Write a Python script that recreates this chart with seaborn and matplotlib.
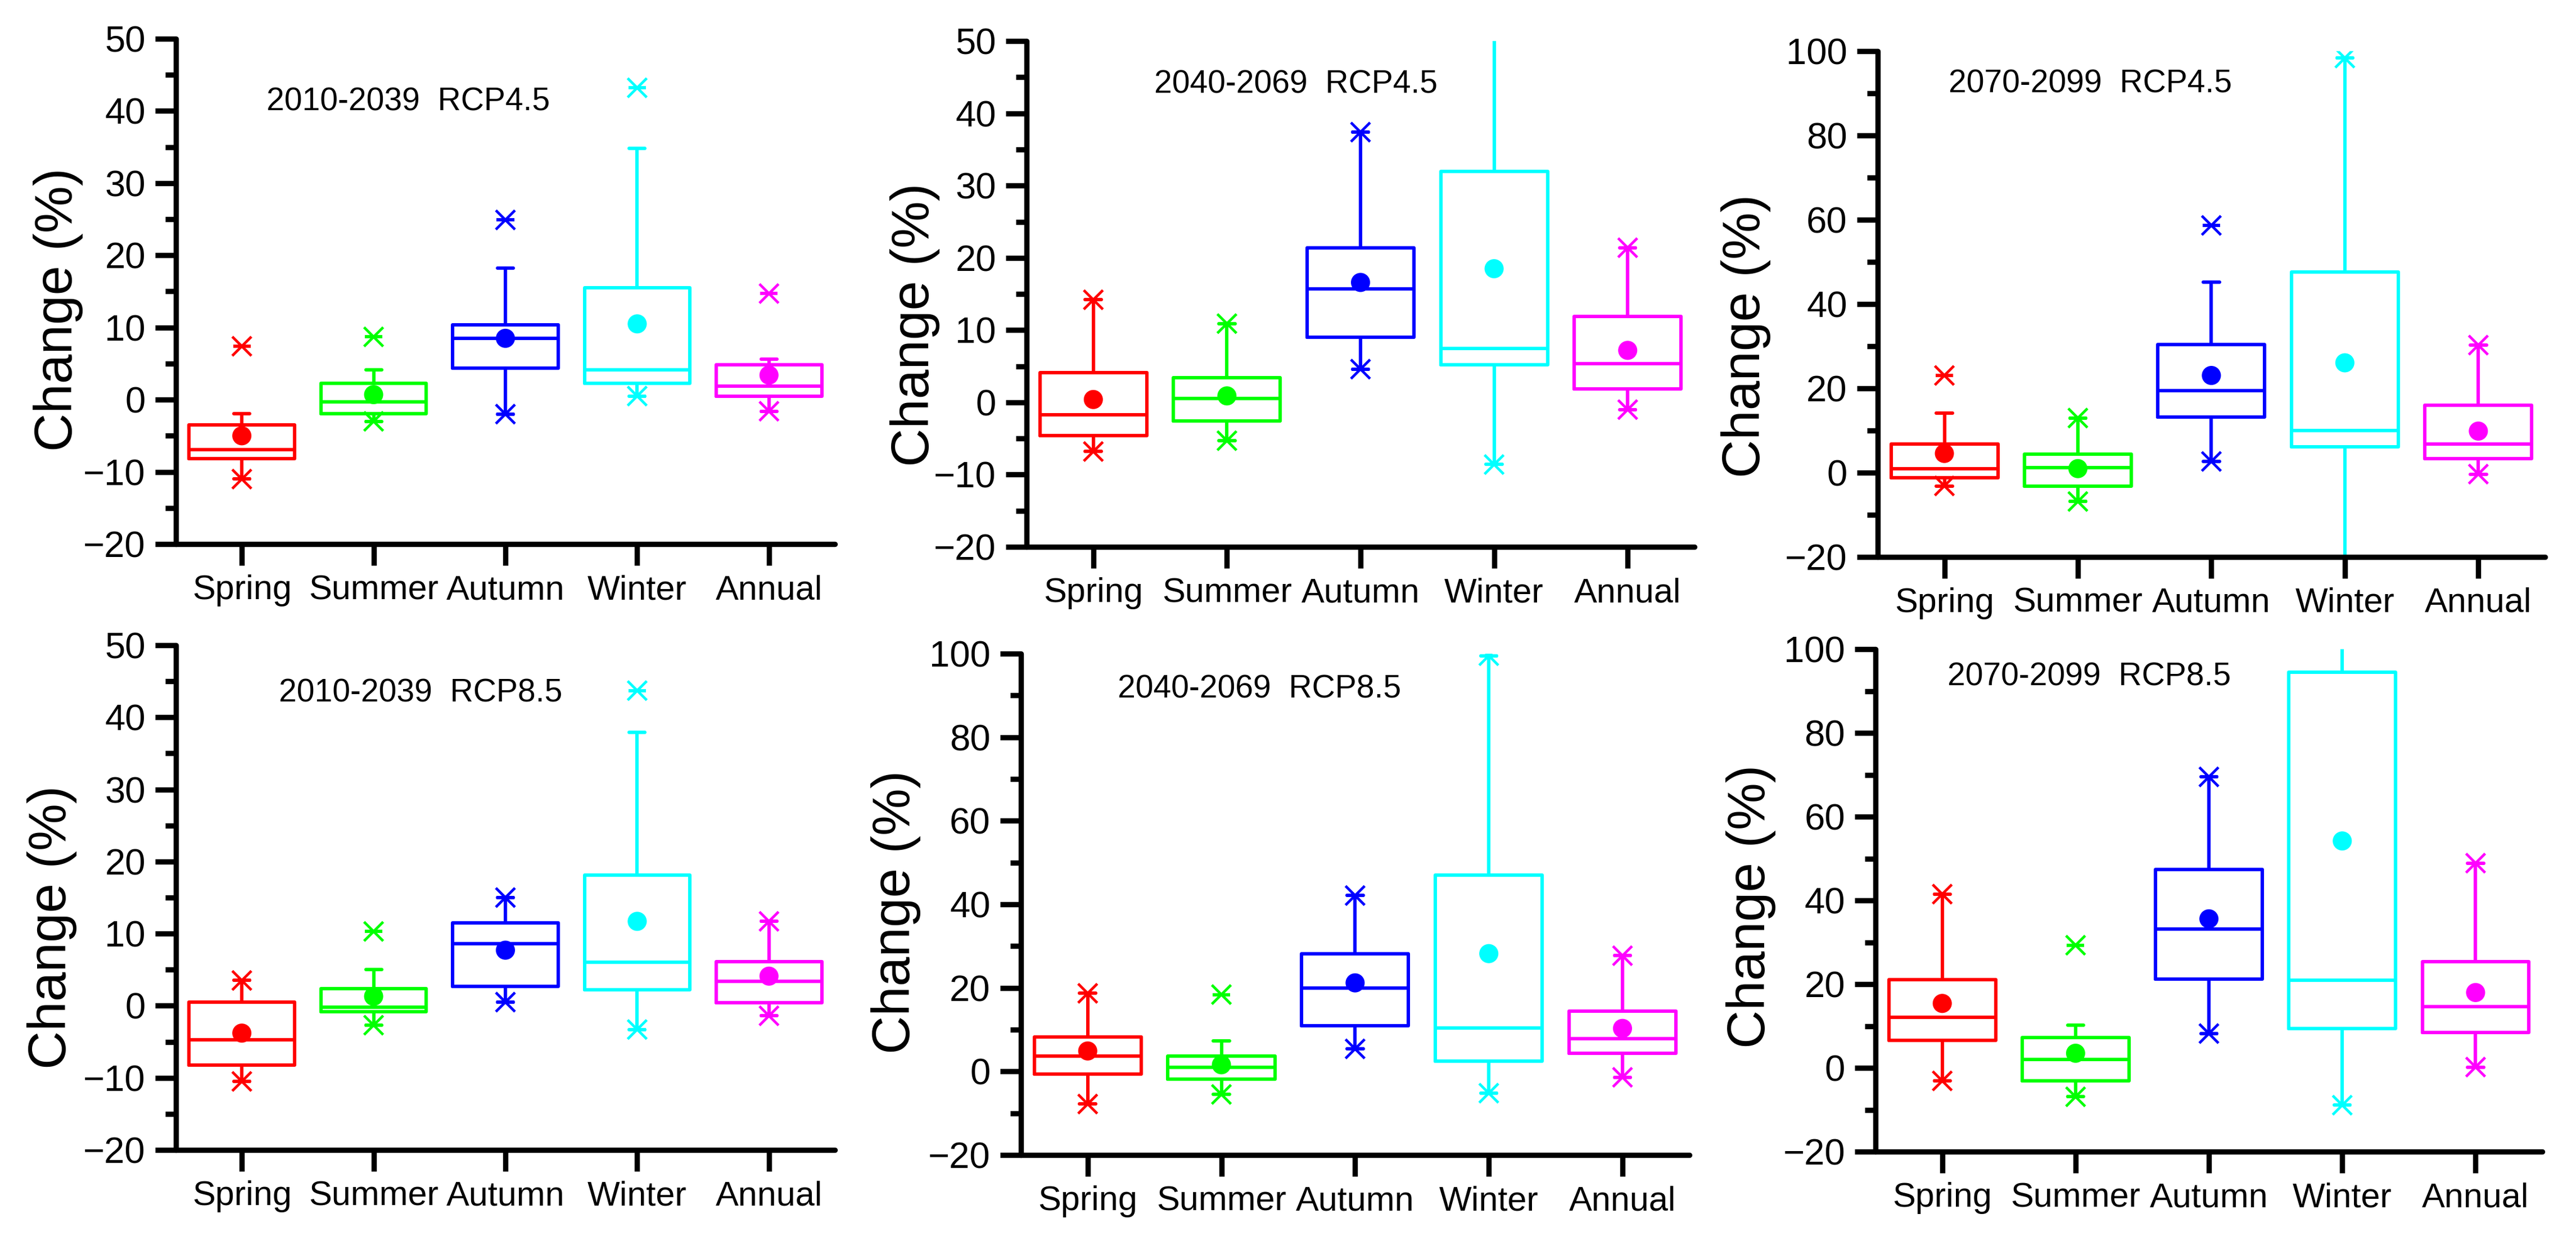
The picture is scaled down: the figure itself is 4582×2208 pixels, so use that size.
import numpy as np
import pandas as pd
import matplotlib
matplotlib.use("Agg")
import matplotlib.pyplot as plt
from matplotlib.ticker import MultipleLocator
import seaborn as sns

sns.set_theme(style="ticks")
plt.rcParams["font.family"] = ["Liberation Sans", "DejaVu Sans"]
plt.rcParams["text.color"] = "black"
plt.rcParams["axes.labelcolor"] = "black"

seasons = ["Spring", "Summer", "Autumn", "Winter", "Annual"]
season_colors = ["#FF0000", "#00FF00", "#0000FF", "#00FFFF", "#FF00FF"]
titles = ["2010-2039  RCP4.5", "2040-2069  RCP4.5", "2070-2099  RCP4.5",
          "2010-2039  RCP8.5", "2040-2069  RCP8.5", "2070-2099  RCP8.5"]

# one row per panel, one column per season
p25 = [[-8.2, -1.9, 4.4, 2.3, 0.5],
       [-4.6, -2.6, 9.0, 5.2, 1.9],
       [-1.3, -3.2, 13.1, 6.1, 3.3],
       [-8.2, -0.8, 2.7, 2.2, 0.4],
       [-0.6, -1.9, 11.0, 2.4, 4.3],
       [6.6, -3.1, 21.2, 9.4, 8.4]]
p50 = [[-6.9, -0.3, 8.5, 4.1, 1.9],
       [-1.7, 0.5, 15.7, 7.5, 5.4],
       [0.9, 1.2, 19.4, 10.0, 6.7],
       [-4.7, -0.2, 8.6, 6.0, 3.4],
       [3.7, 1.0, 20.0, 10.4, 7.9],
       [12.1, 2.0, 33.1, 20.9, 14.6]]
p75 = [[-3.5, 2.3, 10.4, 15.5, 4.8],
       [4.1, 3.4, 21.4, 32.0, 11.9],
       [6.7, 4.3, 30.3, 47.5, 15.9],
       [0.5, 2.4, 11.5, 18.1, 6.1],
       [8.3, 3.7, 28.2, 47.0, 14.5],
       [21.1, 7.2, 47.4, 94.5, 25.4]]
whisk_lo = [[-11.0, -3.0, -2.0, 0.5, -1.6],
            [-6.8, -5.3, 4.6, -8.6, -1.0],
            [-3.2, -6.9, 2.6, -25.0, -0.4],
            [-10.5, -2.7, 0.5, -3.3, -1.4],
            [-7.8, -5.5, 5.4, -5.2, -1.4],
            [-3.1, -6.9, 8.2, -8.9, 0.2]]
whisk_hi = [[-1.9, 4.1, 18.2, 34.8, 5.6],
            [14.2, 10.9, 37.4, 56.0, 21.4],
            [14.1, 12.9, 45.1, 98.3, 30.2],
            [3.5, 5.0, 15.0, 37.9, 11.7],
            [18.7, 7.3, 42.1, 99.5, 27.7],
            [41.5, 10.2, 69.5, 110.0, 48.9]]
means = [[-5.0, 0.7, 8.5, 10.5, 3.4],
         [0.4, 0.9, 16.6, 18.5, 7.2],
         [4.5, 0.9, 23.0, 26.0, 9.8],
         [-3.8, 1.3, 7.7, 11.7, 4.1],
         [4.9, 1.6, 21.2, 28.2, 10.3],
         [15.4, 3.5, 35.6, 54.2, 18.0]]
v_min = [[-11.0, -3.0, -2.0, 0.5, -1.6],
         [-6.8, -5.3, 4.6, -8.6, -1.0],
         [-3.2, -6.9, 2.6, -25.0, -0.4],
         [-10.5, -2.7, 0.5, -3.3, -1.4],
         [-7.8, -5.5, 5.4, -5.2, -1.4],
         [-3.1, -6.9, 8.2, -8.9, 0.2]]
v_max = [[7.4, 8.7, 24.9, 43.2, 14.7],
         [14.2, 10.9, 37.4, 56.0, 21.4],
         [23.0, 12.9, 58.6, 98.3, 30.2],
         [3.5, 10.3, 15.0, 43.7, 11.7],
         [18.7, 18.4, 42.1, 99.5, 27.7],
         [41.5, 29.3, 69.5, 110.0, 48.9]]

y_ranges = [(-20, 50, 10, 5), (-20, 50, 10, 5), (-20, 100, 20, 10),
            (-20, 50, 10, 5), (-20, 100, 20, 10), (-20, 100, 20, 10)]

rects = [[0.0683, 0.5616, 0.2558, 0.4072],
         [0.3985, 0.5593, 0.2593, 0.4076],
         [0.7289, 0.5514, 0.2591, 0.4076],
         [0.0683, 0.0734, 0.2558, 0.4067],
         [0.3963, 0.0693, 0.2595, 0.4040],
         [0.7281, 0.0720, 0.2588, 0.4049]]
title_pos = [(0.137, 0.875), (0.191, 0.914), (0.106, 0.934),
             (0.156, 0.905), (0.145, 0.929), (0.108, 0.945)]
ylabel_pos = [(-0.179, 0.464), (-0.167, 0.439), (-0.197, 0.436),
              (-0.188, 0.441), (-0.187, 0.485), (-0.187, 0.488)]

fig = plt.figure(figsize=(45.82, 22.08), dpi=100)
positions = np.arange(len(seasons))
lw = 4.4
axis_lw = 6.8

for k in range(6):
    ax = fig.add_axes(rects[k])
    stats = []
    for i in range(len(seasons)):
        stats.append(dict(q1=p25[k][i], med=p50[k][i], q3=p75[k][i],
                          whislo=whisk_lo[k][i], whishi=whisk_hi[k][i],
                          fliers=[]))
    bp = ax.bxp(stats, positions=positions, widths=0.8, capwidths=0.12,
                showfliers=False, patch_artist=False, manage_ticks=False)
    for i, c in enumerate(season_colors):
        bp["boxes"][i].set(color=c, linewidth=lw)
        bp["medians"][i].set(color=c, linewidth=lw)
        for j in (2 * i, 2 * i + 1):
            bp["whiskers"][j].set(color=c, linewidth=lw)
            bp["caps"][j].set(color=c, linewidth=lw, solid_capstyle="round")

    df = pd.DataFrame({"pos": positions, "season": seasons, "mean": means[k],
                       "vmin": v_min[k], "vmax": v_max[k]})
    ext = df.melt(id_vars=["pos", "season"], value_vars=["vmin", "vmax"],
                  value_name="value")
    sns.scatterplot(data=df, x="pos", y="mean", hue="season",
                    palette=season_colors, marker="o", s=600, linewidth=0,
                    legend=False, ax=ax, zorder=5)
    sns.scatterplot(data=ext, x="pos", y="value", hue="season",
                    palette=season_colors, marker="x", s=600, linewidth=3.4,
                    legend=False, ax=ax, zorder=5)
    sns.scatterplot(data=ext, x="pos", y="value", hue="season",
                    palette=season_colors, marker="_", s=500, linewidth=4.2,
                    legend=False, ax=ax, zorder=5)

    lo, hi, major, minor = y_ranges[k]
    ax.set_xlim(-0.5, 4.5)
    ax.set_ylim(lo, hi)
    ax.yaxis.set_major_locator(MultipleLocator(major))
    ax.yaxis.set_minor_locator(MultipleLocator(minor))
    ax.set_xticks(positions)
    ax.set_xticklabels(seasons)
    ax.tick_params(axis="both", which="major", length=27, width=axis_lw,
                   color="black", labelcolor="black", direction="out")
    ax.tick_params(axis="y", which="major", pad=12, labelsize=47)
    ax.tick_params(axis="x", which="major", pad=12, labelsize=44)
    ax.tick_params(axis="y", which="minor", length=14, width=axis_lw,
                   color="black", direction="out")
    ax.tick_params(axis="x", which="minor", length=0)
    sns.despine(ax=ax)
    for side in ("left", "bottom"):
        ax.spines[side].set_linewidth(axis_lw)
        ax.spines[side].set_color("black")
        ax.spines[side].set_capstyle("round")

    ax.set_xlabel("")
    ax.set_ylabel("Change (%)", fontsize=68)
    ax.yaxis.label.set_verticalalignment("center")
    ax.yaxis.set_label_coords(*ylabel_pos[k])
    ax.text(title_pos[k][0], title_pos[k][1], titles[k], transform=ax.transAxes,
            fontsize=41, ha="left", va="center", color="black")

fig.savefig("out.png", dpi=100, facecolor="white")
